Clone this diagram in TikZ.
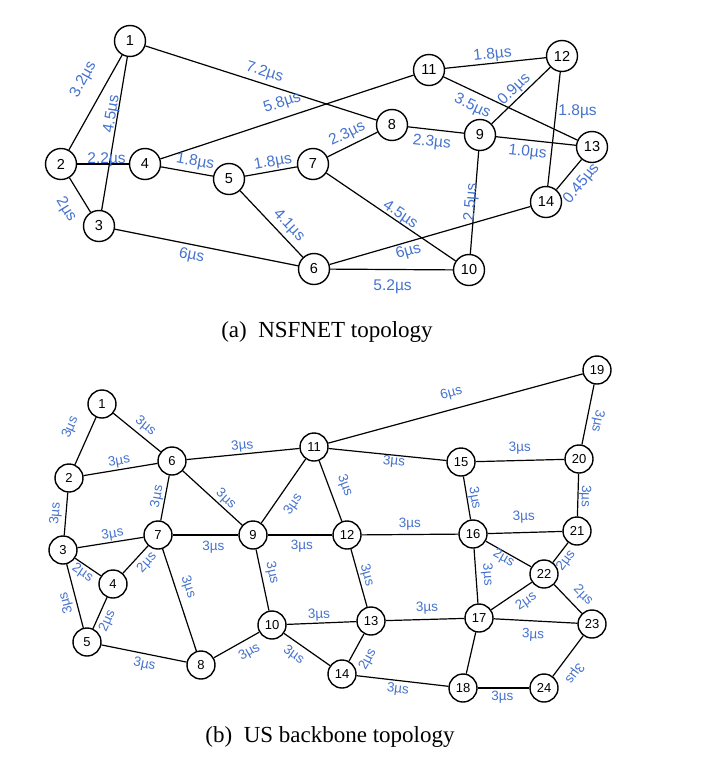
\documentclass[tikz,border=0pt]{standalone}
\usepackage{xcolor}
\usepackage{fontspec}
\setmainfont{Liberation Sans}
\newfontfamily\capfont{Liberation Serif}
\definecolor{wblue}{RGB}{68,114,206}

\begin{document}
\begin{tikzpicture}[x=1pt, y=-1pt, font=\fontsize{14.5}{16}\selectfont,
      vtx/.style={circle, draw=black, line width=1.4pt, inner sep=0pt, minimum size=31pt},
      vtxb/.style={vtx, minimum size=28pt, font=\fontsize{13}{14}\selectfont},
      wt/.style={text=wblue, inner sep=1pt, sloped, font=\fontsize{15.5}{17}\selectfont},
      wtb/.style={wt, font=\fontsize{13.5}{15}\selectfont},
      flat/.style={text=wblue, inner sep=1pt, font=\fontsize{15.5}{17}\selectfont},
      flip/.style={wtb, allow upside down},
      every edge/.style={draw, line width=1.2pt},
      caption/.style={anchor=base, font=\capfont\fontsize{23}{26}\selectfont}]
      \useasboundingbox (0,0) rectangle (702,761);

      \node[vtx, name=a1] at (130,41) {1};
      \node[vtx, name=a2] at (61,164) {2};
      \node[vtx, name=a3] at (99,226) {3};
      \node[vtx, name=a4] at (145,164) {4};
      \node[vtx, name=a5] at (229,179) {5};
      \node[vtx, name=a6] at (314,269) {6};
      \node[vtx, name=a7] at (313,164) {7};
      \node[vtx, name=a8] at (392,125) {8};
      \node[vtx, name=a9] at (480,135) {9};
      \node[vtx, name=a10] at (469,270) {10};
      \node[vtx, name=a11] at (429,70) {11};
      \node[vtx, name=a12] at (562,56) {12};
      \node[vtx, name=a13] at (592,147) {13};
      \node[vtx, name=a14] at (546,202) {14};
      \node[caption, name=capa] at (327,337) {(a)\enspace NSFNET topology};

      \path[-]
         (a2) edge node[wt, pos=.63, above=13pt] {3.2µs} (a1)
         (a3) edge node[wt, pos=.62, above=-3pt] {4.5µs} (a1)
         (a1) edge node[wt, pos=.5, above=2.5pt] {7.2µs} (a8)
         (a2) edge node[wt, pos=.57, above=-4pt] {2.2µs} (a4)
         (a2) edge node[wt, pos=.63, below=11pt] {2µs} (a3)
         (a4) edge node[wt, pos=.5, above=6pt] {5.8µs} (a11)
         (a4) edge node[wt, pos=.62, above=2pt] {1.8µs} (a5)
         (a5) edge node[wt, pos=.57, above=0pt] {1.8µs} (a7)
         (a5) edge node[wt, pos=.64, above=3pt] {4.1µs} (a6)
         (a3) edge node[wt, pos=.43, below=2.5pt] {6µs} (a6)
         (a7) edge node[wt, pos=.5, above=3pt] {2.3µs} (a8)
         (a7) edge node[wt, pos=.54, above=-1.5pt] {4.5µs} (a10)
         (a8) edge node[wt, pos=.45, below=4.5pt] {2.3µs} (a9)
         (a11) edge node[wt, pos=.48, above=0pt] {1.8µs} (a12)
         (a11) edge node[wt, pos=.26, below=6pt] {3.5µs} (a13)
         (a9) edge node[wt, pos=.49, above=0pt] {0.9µs} (a12)
         (a12) edge node[flat, pos=.35, right=1pt] {1.8µs} (a14)
         (a9) edge node[wt, pos=.41, below=4pt] {1.0µs} (a13)
         (a10) edge node[wt, pos=.5, above=-5.5pt] {2.5µs} (a9)
         (a14) edge node[wt, pos=.53, below=7pt] {0.45µs} (a13)
         (a6) edge node[wt, pos=.38, below=1pt] {6µs} (a14)
         (a6) edge node[wt, pos=.51, below=8.5pt] {5.2µs} (a10);

      \node[vtxb, name=b1] at (102,404) {1};
      \node[vtxb, name=b2] at (69,478) {2};
      \node[vtxb, name=b3] at (63,550) {3};
      \node[vtxb, name=b4] at (113,584) {4};
      \node[vtxb, name=b5] at (87,642) {5};
      \node[vtxb, name=b6] at (172,461) {6};
      \node[vtxb, name=b7] at (158,535) {7};
      \node[vtxb, name=b8] at (201,665) {8};
      \node[vtxb, name=b9] at (253,535) {9};
      \node[vtxb, name=b10] at (272,625) {10};
      \node[vtxb, name=b11] at (314,447) {11};
      \node[vtxb, name=b12] at (347,535) {12};
      \node[vtxb, name=b13] at (371,621) {13};
      \node[vtxb, name=b14] at (342,674) {14};
      \node[vtxb, name=b15] at (461,462) {15};
      \node[vtxb, name=b16] at (473,534) {16};
      \node[vtxb, name=b17] at (479,618) {17};
      \node[vtxb, name=b18] at (463,688) {18};
      \node[vtxb, name=b19] at (597,370) {19};
      \node[vtxb, name=b20] at (579,459) {20};
      \node[vtxb, name=b21] at (577,531) {21};
      \node[vtxb, name=b22] at (544,574) {22};
      \node[vtxb, name=b23] at (592,624) {23};
      \node[vtxb, name=b24] at (544,688) {24};
      \node[caption, name=capb] at (330,742) {(b)\enspace US backbone topology};

      \path[-]
         (b2) edge node[wtb, pos=.62, above=11.5pt] {3µs} (b1)
         (b1) edge node[wtb, pos=.54, above=2.5pt] {3µs} (b6)
         (b2) edge node[wtb, pos=.5, above=0.5pt] {3µs} (b6)
         (b6) edge node[wtb, pos=.5, above=0pt] {3µs} (b11)
         (b7) edge node[wtb, pos=.5, above=0pt] {3µs} (b6)
         (b6) edge node[wtb, pos=.63, above=0.5pt] {3µs} (b9)
         (b9) edge node[wtb, pos=.43, below=8pt] {3µs} (b11)
         (b11) edge node[wtb, pos=.5, above=7.5pt] {3µs} (b12)
         (b3) edge node[wtb, pos=.49, above=2.5pt] {3µs} (b2)
         (b3) edge node[wtb, pos=.55, above=0pt] {3µs} (b7)
         (b7) edge node[wtb, pos=.62, below=4.5pt] {3µs} (b9)
         (b9) edge node[wtb, pos=.53, below=3.5pt] {3µs} (b12)
         (b12) edge node[wtb, pos=.5, above=2.5pt] {3µs} (b16)
         (b3) edge node[wtb, pos=.46, below=0.5pt] {2µs} (b4)
         (b4) edge node[wtb, pos=.65, below=3pt] {2µs} (b7)
         (b5) edge node[flip, pos=.43, above=2.5pt] {3µs} (b3)
         (b5) edge node[wtb, pos=.38, below=2.5pt] {2µs} (b4)
         (b7) edge node[wtb, pos=.41, above=4.5pt] {3µs} (b8)
         (b9) edge node[wtb, pos=.42, above=3pt] {3µs} (b10)
         (b5) edge node[wtb, pos=.53, below=3pt] {3µs} (b8)
         (b8) edge node[wtb, pos=.65, below=5pt] {3µs} (b10)
         (b10) edge node[wtb, pos=.47, above=0.5pt] {3µs} (b13)
         (b10) edge node[wtb, pos=.36, below=4.5pt] {3µs} (b14)
         (b11) edge node[wtb, pos=.5, above=7.5pt] {6µs} (b19)
         (b19) edge node[flip, pos=.58, above=3pt] {3µs} (b20)
         (b11) edge node[wtb, pos=.56, below=-1pt] {3µs} (b15)
         (b15) edge node[wtb, pos=.5, above=4.5pt] {3µs} (b20)
         (b20) edge node[flip, pos=.53, above=-0.5pt] {3µs} (b21)
         (b15) edge node[wtb, pos=.53, above=-0.5pt] {3µs} (b16)
         (b16) edge node[wtb, pos=.49, above=7.5pt] {3µs} (b21)
         (b12) edge node[wtb, pos=.49, above=0.5pt] {3µs} (b13)
         (b16) edge node[wtb, pos=.49, above=3.5pt] {3µs} (b17)
         (b16) edge node[wtb, pos=.46, below=-1.5pt] {2µs} (b22)
         (b22) edge node[wtb, pos=.37, below=2pt] {2µs} (b21)
         (b22) edge node[wtb, pos=.7, above=5.5pt] {2µs} (b23)
         (b17) edge node[wtb, pos=.69, below=5pt] {2µs} (b22)
         (b13) edge node[wtb, pos=.53, above=3.5pt] {3µs} (b17)
         (b17) edge node[wtb, pos=.48, below=6.5pt] {3µs} (b23)
         (b14) edge node[wtb, pos=.34, below=8pt] {2µs} (b13)
         (b14) edge node[wtb, pos=.46, below=1pt] {3µs} (b18)
         (b18) edge node[wtb, pos=.48, below=1.5pt] {3µs} (b24)
         (b23) edge node[flip, pos=.69, above=7.5pt] {3µs} (b24)
         (b17) edge (b18);
   \end{tikzpicture}
\end{document}
